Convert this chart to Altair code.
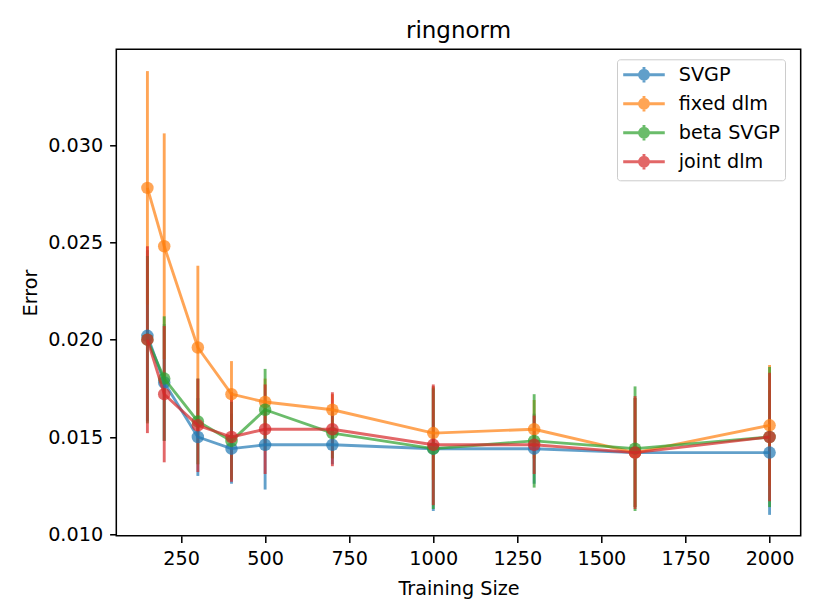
import altair as alt
import pandas as pd

# ---------------- data ----------------
train_sizes = [150, 200, 300, 400, 500, 700, 1000, 1300, 1600, 2000]
series_names = ["SVGP", "fixed dlm", "beta SVGP", "joint dlm"]
series_colors = ["#1f77b4", "#ff7f0e", "#2ca02c", "#d62728"]

svgp_mean = [0.0202, 0.0178, 0.0150, 0.0144, 0.0146, 0.0146, 0.0144, 0.0144, 0.0142, 0.0142]
svgp_err = [0.0044, 0.0030, 0.0020, 0.0018, 0.0023, 0.0010, 0.0032, 0.0018, 0.0028, 0.0032]

fixed_mean = [0.0278, 0.0248, 0.0196, 0.0172, 0.0168, 0.0164, 0.0152, 0.0154, 0.0142, 0.0156]
fixed_err = [0.0060, 0.0058, 0.0042, 0.0017, 0.0012, 0.0008, 0.0024, 0.0015, 0.0028, 0.0031]

beta_mean = [0.0200, 0.0180, 0.0158, 0.0148, 0.0164, 0.0152, 0.0144, 0.0148, 0.0144, 0.0150]
beta_err = [0.0043, 0.0032, 0.0022, 0.0020, 0.0021, 0.0013, 0.0031, 0.0024, 0.0032, 0.0036]

joint_mean = [0.0200, 0.0172, 0.0156, 0.0150, 0.0154, 0.0154, 0.0146, 0.0146, 0.0142, 0.0150]
joint_err = [0.0048, 0.0035, 0.0024, 0.0023, 0.0023, 0.0019, 0.0031, 0.0015, 0.0029, 0.0033]

x_ticks = [250, 500, 750, 1000, 1250, 1500, 1750, 2000]
y_ticks = [0.010, 0.015, 0.020, 0.025, 0.030]

# ---------------- table ----------------
rows = []
for k, (name, means, errs) in enumerate(zip(
        series_names,
        [svgp_mean, fixed_mean, beta_mean, joint_mean],
        [svgp_err, fixed_err, beta_err, joint_err])):
    for s, m, e in zip(train_sizes, means, errs):
        rows.append({"series": name, "k": k, "size": s, "error": m,
                     "lo": m - e, "hi": m + e})
df = pd.DataFrame(rows)

FONT = "DejaVu Sans"
LW = 2.88
ALPHA = 0.7

x_scale = alt.Scale(domain=[57.5, 2092.5], nice=False, zero=False)
y_scale = alt.Scale(domain=[0.00993, 0.03492], nice=False, zero=False)
x_axis = alt.Axis(values=x_ticks, title="Training Size", format="d")
y_axis = alt.Axis(values=y_ticks, title="Error", format=".3f")

# legend symbol: horizontal line + vertical error bar + filled marker (rings)
legend_path = (
    "M-2.31,0H2.31"
    "M0,-0.86V0.86"
    "M0.50,0A0.50,0.50,0,1,1,-0.50,0A0.50,0.50,0,1,1,0.50,0"
    "M0.27,0A0.27,0.27,0,1,1,-0.27,0A0.27,0.27,0,1,1,0.27,0"
    "M0.07,0A0.07,0.07,0,1,1,-0.07,0A0.07,0.07,0,1,1,0.07,0"
)

legend = alt.Legend(
    title=None, orient="none", legendX=500.7, legendY=10,
    symbolType=legend_path, symbolSize=324, symbolStrokeWidth=LW,
    symbolOpacity=ALPHA, symbolOffset=11.5, labelOffset=24.3,
    labelFont=FONT, labelFontSize=19.2, labelColor="black",
    padding=5, rowPadding=2, strokeColor="#cccccc",
    fillColor="rgba(255,255,255,0.8)", cornerRadius=3, labelLimit=400,
)


def color_enc(with_legend=False):
    return alt.Color("series:N",
                     scale=alt.Scale(domain=series_names, range=series_colors),
                     legend=legend if with_legend else None)


base = alt.Chart(df)

bars = base.mark_rule(strokeWidth=LW, opacity=ALPHA).encode(
    x=alt.X("size:Q", scale=x_scale, axis=x_axis),
    y=alt.Y("lo:Q", scale=y_scale, axis=y_axis),
    y2="hi:Q",
    color=color_enc(True),
    order="k:Q",
)

layers = [bars]
for name in series_names:
    sub = alt.Chart(df[df["series"] == name])
    line = sub.mark_line(strokeWidth=LW, opacity=ALPHA, strokeJoin="round").encode(
        x=alt.X("size:Q", scale=x_scale, axis=x_axis),
        y=alt.Y("error:Q", scale=y_scale, axis=y_axis),
        color=color_enc(),
    )
    pts = sub.mark_circle(size=156, opacity=ALPHA).encode(
        x=alt.X("size:Q", scale=x_scale, axis=x_axis),
        y=alt.Y("error:Q", scale=y_scale, axis=y_axis),
        color=color_enc(),
    )
    layers += [line, pts]

chart = alt.layer(*layers).properties(
    width=684.4,
    height=486.4,
    title=alt.TitleParams("ringnorm", font=FONT, fontSize=23, fontWeight="normal",
                          color="black", offset=6, anchor="middle", frame="group"),
    autosize=alt.AutoSizeParams(type="none"),
    padding={"left": 108.3, "top": 41.3, "right": 12, "bottom": 70},
).configure_view(
    stroke="black", strokeWidth=1.53
).configure_axis(
    labelFont=FONT, labelFontSize=19.2, labelColor="black",
    titleFont=FONT, titleFontSize=19.2, titleFontWeight="normal", titleColor="black",
    tickColor="black", tickWidth=1.53, tickSize=6.7, labelPadding=7,
    domain=False, grid=False,
).configure_axisX(
    titlePadding=11
).configure_axisY(
    titlePadding=7
)

chart.save("out.html", embed_options={"renderer": "svg", "actions": False})
